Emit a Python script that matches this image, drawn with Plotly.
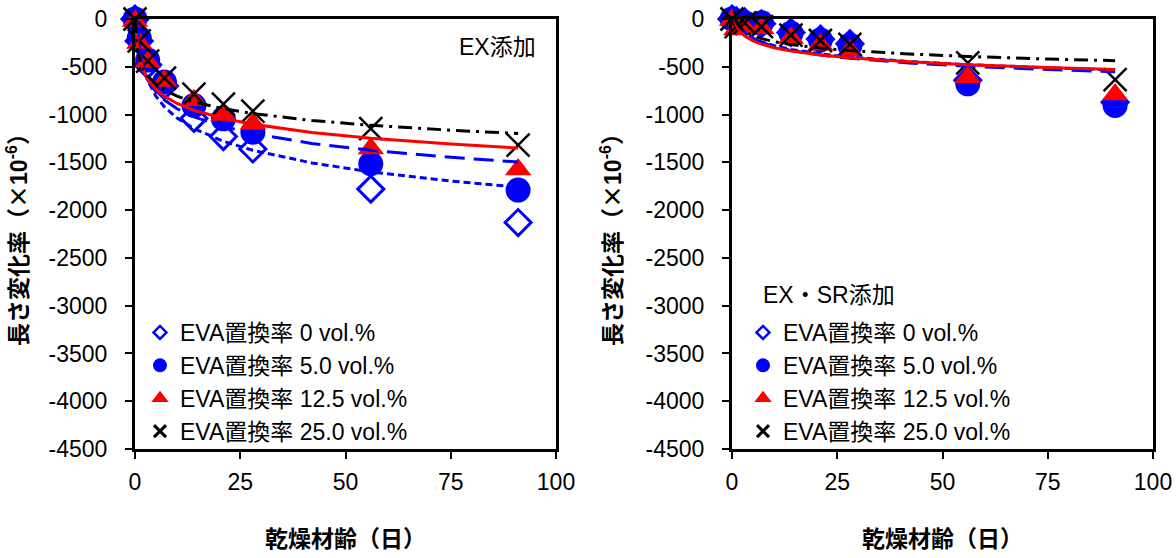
import plotly.graph_objects as go

# ---------------- data ----------------
times = [0, 1, 3, 7, 14, 21, 28, 56, 91]

# EX添加 (left)
ex_eva0 = [0, -230, -480, -700, -1040, -1230, -1360, -1780, -2130]
ex_eva5 = [0, -200, -430, -660, -905, -1045, -1185, -1515, -1790]
ex_eva12 = [-20, -250, -450, -650, -850, -1005, -1095, -1355, -1575]
ex_eva25 = [0, -230, -440, -620, -787, -892, -965, -1147, -1320]

# EX・SR添加 (right)
sr_eva0 = [0, -20, -30, -50, -140, -210, -260, -640, -870]
sr_eva5 = [0, -20, -40, -40, -150, -220, -275, -678, -905]
sr_eva12 = [-10, -110, -90, -100, -200, -270, -330, -610, -790]
sr_eva25 = [0, -80, -40, -80, -170, -225, -265, -458, -635]

# fitted curves
fit_t_ex0 = [0.42, 0.5, 1, 2, 3, 5, 7, 10, 14, 21, 28, 42, 56, 75, 91]
fit_ex0 = [0, -57, -284, -511, -643, -810, -920, -1037, -1147, -1280, -1374, -1506, -1600, -1696, -1759]
fit_t_ex5 = [0.25, 0.5, 1, 2, 3, 5, 7, 10, 14, 21, 28, 42, 56, 75, 91]
fit_ex5 = [-5, -181, -356, -531, -634, -763, -848, -939, -1024, -1126, -1199, -1302, -1374, -1448, -1497]
fit_t_ex12 = [0.15, 0.5, 1, 2, 3, 5, 7, 10, 14, 21, 28, 42, 56, 75, 91]
fit_ex12 = [0, -252, -398, -544, -630, -738, -809, -884, -955, -1040, -1101, -1187, -1247, -1309, -1350]
fit_t_ex25 = [0.1, 0.5, 1, 2, 3, 5, 7, 10, 14, 21, 28, 42, 56, 75, 91]
fit_ex25 = [0, -277, -400, -523, -594, -685, -744, -808, -867, -939, -990, -1062, -1112, -1164, -1198]

fit_t_sr0 = [0.88, 1, 2, 3, 5, 7, 10, 14, 21, 28, 42, 56, 75, 91]
fit_sr0 = [0, -15, -95, -141, -200, -239, -280, -318, -365, -398, -445, -478, -511, -534]
fit_t_sr5 = [0.9, 1, 2, 3, 5, 7, 10, 14, 21, 28, 42, 56, 75, 91]
fit_sr5 = [0, -11, -94, -143, -204, -245, -287, -328, -376, -411, -460, -494, -529, -552]
fit_t_sr12 = [0.55, 1, 2, 3, 5, 7, 10, 14, 21, 28, 42, 56, 75, 91]
fit_sr12 = [0, -63, -134, -176, -229, -263, -300, -335, -377, -406, -448, -478, -508, -528]
fit_t_sr25 = [0.72, 1, 2, 3, 5, 7, 10, 14, 21, 28, 42, 56, 75, 91]
fit_sr25 = [0, -30, -92, -129, -175, -205, -237, -268, -304, -330, -366, -392, -419, -436]

series_names = ["EVA置換率 0 vol.%", "EVA置換率 5.0 vol.%", "EVA置換率 12.5 vol.%", "EVA置換率 25.0 vol.%"]
x_ticks = [0, 25, 50, 75, 100]
y_tick_vals = [0, -500, -1000, -1500, -2000, -2500, -3000, -3500, -4000, -4500]
y_tick_text = ["0", "-500", "-1000", "-1500", "-2000", "-2500", "-3000", "-3500", "-4000", "-4500"]
panel_labels = ["EX添加", "EX・SR添加"]
x_title = "乾燥材齢（日）"
y_title = "長さ変化率（<span style='font-family:Noto Sans CJK JP'>×</span>10<sup>-6</sup>）"

# ---------------- styles ----------------
FONT = "Liberation Sans, Arial, Noto Sans CJK JP, sans-serif"
BLUE = "#0000FF"
RED = "#FF0000"
BLACK = "#000000"

big_markers = [
    dict(symbol="diamond-open", size=20, color=BLUE, line=dict(color=BLUE, width=3)),
    dict(symbol="circle", size=25, color=BLUE, line=dict(width=0)),
    dict(symbol="triangle-up", size=23, color=RED, line=dict(width=0)),
    dict(symbol="x-thin-open", size=23, color=BLACK, line=dict(color=BLACK, width=2.5)),
]
legend_markers = [
    dict(symbol="diamond-open", size=10, color=BLUE, line=dict(color=BLUE, width=2.5)),
    dict(symbol="circle", size=14, color=BLUE, line=dict(width=0)),
    dict(symbol="triangle-up", size=15, color=RED, line=dict(width=0)),
    dict(symbol="x-thin-open", size=12, color=BLACK, line=dict(color=BLACK, width=3)),
]
fit_lines = [
    dict(color=BLUE, width=3, dash="7px,4px"),
    dict(color=BLUE, width=3, dash="20px,9px"),
    dict(color=RED, width=3),
    dict(color=BLACK, width=3, dash="14px,6px,3px,6px"),
]

fig = go.Figure()

panels = [
    ("x", "y", "legend", [ex_eva0, ex_eva5, ex_eva12, ex_eva25],
     [(fit_t_ex0, fit_ex0), (fit_t_ex5, fit_ex5), (fit_t_ex12, fit_ex12), (fit_t_ex25, fit_ex25)]),
    ("x2", "y2", "legend2", [sr_eva0, sr_eva5, sr_eva12, sr_eva25],
     [(fit_t_sr0, fit_sr0), (fit_t_sr5, fit_sr5), (fit_t_sr12, fit_sr12), (fit_t_sr25, fit_sr25)]),
]

for xa, ya, lg, vals, fits in panels:
    for i, v in enumerate(vals):
        fig.add_trace(go.Scatter(x=times, y=v, mode="markers", marker=big_markers[i],
                                 xaxis=xa, yaxis=ya, showlegend=False, cliponaxis=False,
                                 name=series_names[i]))
    for i, (ft, fv) in enumerate(fits):
        fig.add_trace(go.Scatter(x=ft, y=fv, mode="lines", line=fit_lines[i],
                                 xaxis=xa, yaxis=ya, showlegend=False, hoverinfo="skip"))
    for i in range(4):
        fig.add_trace(go.Scatter(x=[None], y=[None], mode="markers", marker=legend_markers[i],
                                 name=series_names[i], xaxis=xa, yaxis=ya, legend=lg,
                                 showlegend=True))

ML, MR, MT, MB = 135, 23, 19, 109
W, H = 1176, 558
PW = W - ML - MR
PH = H - MT - MB


def px_x(p):
    return (p - ML) / PW


def px_y(p):
    return 1 - (p - MT) / PH


axis_common = dict(showline=True, linewidth=3, linecolor=BLACK, mirror=True,
                   ticks="outside", ticklen=7, tickwidth=2, tickcolor=BLACK,
                   showgrid=False, zeroline=False,
                   tickfont=dict(family=FONT, size=23, color=BLACK))

xcfg = dict(axis_common, range=[0, 100], tickvals=x_ticks, ticklabelstandoff=3,
            title=dict(text=x_title, standoff=38,
                       font=dict(family=FONT, size=23, color=BLACK, weight="bold")))
ycfg = dict(axis_common, range=[-4500, 0], tickvals=y_tick_vals, ticktext=y_tick_text,
            ticklabelstandoff=13,
            title=dict(text=y_title, standoff=18,
                       font=dict(family=FONT, size=23, color=BLACK, weight="bold")))

legend_common = dict(xanchor="left", yanchor="top", bgcolor="rgba(0,0,0,0)", borderwidth=0,
                     font=dict(family=FONT, size=23, color=BLACK), tracegroupgap=0,
                     itemclick=False, itemdoubleclick=False)

fig.update_layout(
    width=W, height=H,
    margin=dict(l=ML, r=MR, t=MT, b=MB, autoexpand=False),
    paper_bgcolor="white", plot_bgcolor="white",
    font=dict(family=FONT, size=23, color=BLACK),
    xaxis=dict(xcfg, domain=[0, px_x(556)], anchor="y"),
    yaxis=dict(ycfg, domain=[0, 1], anchor="x"),
    xaxis2=dict(xcfg, domain=[px_x(732), 1], anchor="y2"),
    yaxis2=dict(ycfg, domain=[0, 1], anchor="x2"),
    legend=dict(legend_common, x=px_x(140), y=px_y(311)),
    legend2=dict(legend_common, x=px_x(743), y=px_y(311)),
    annotations=[
        dict(text=panel_labels[0], xref="paper", yref="paper", x=px_x(538), y=px_y(47),
             xanchor="right", yanchor="middle", showarrow=False,
             font=dict(family=FONT, size=23, color=BLACK)),
        dict(text=panel_labels[1], xref="paper", yref="paper", x=px_x(761), y=px_y(295),
             xanchor="left", yanchor="middle", showarrow=False,
             font=dict(family=FONT, size=23, color=BLACK)),
    ],
    showlegend=True,
)

fig.write_html("out.html", config={"displayModeBar": False},
               post_script="document.body.style.margin='0px';")
